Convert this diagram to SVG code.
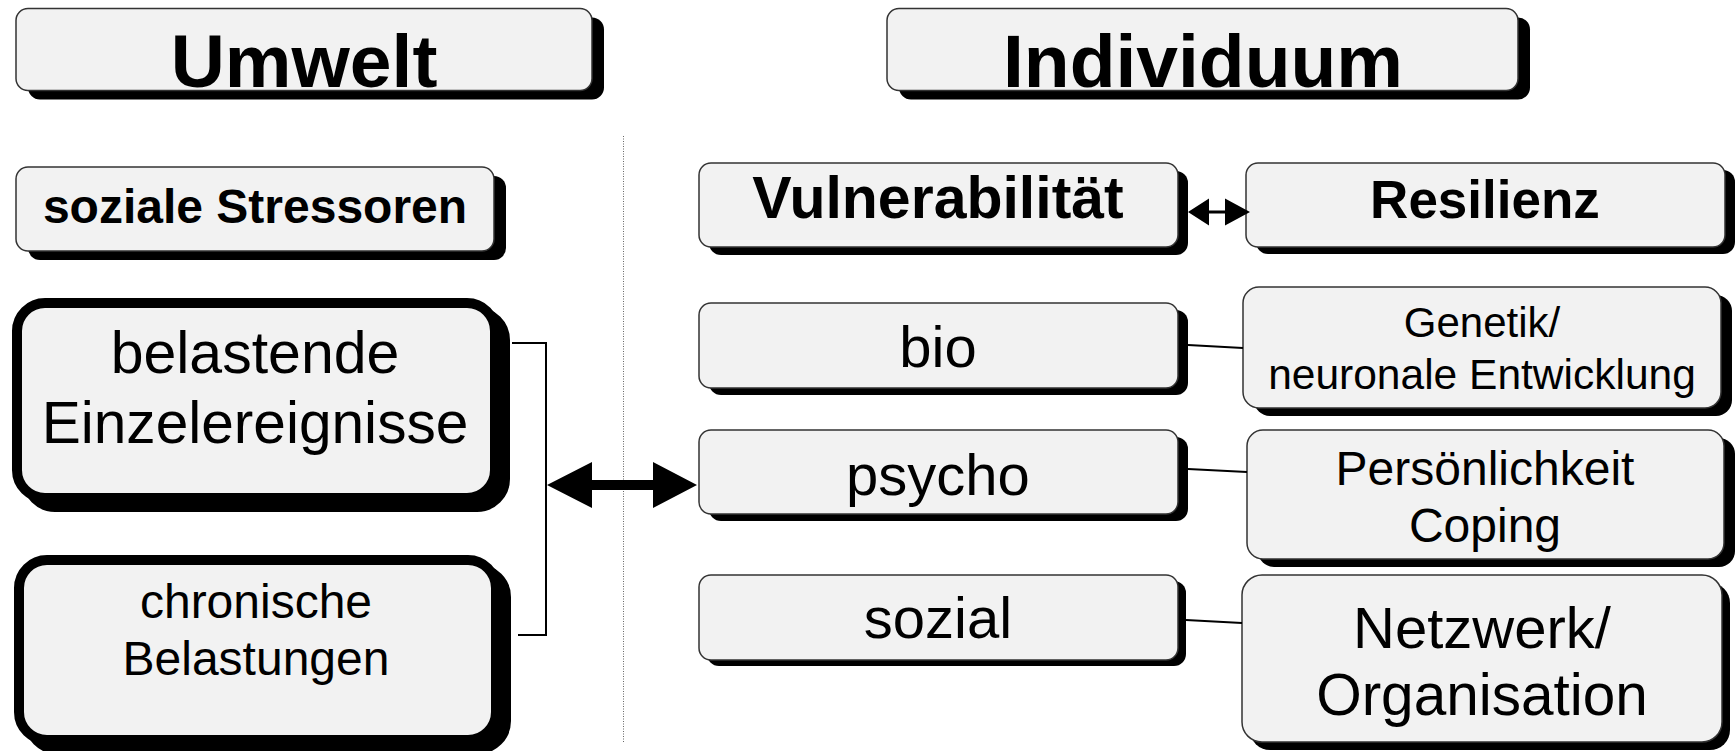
<svg xmlns="http://www.w3.org/2000/svg" width="1736" height="751" viewBox="0 0 1736 751">
  <style>
    .box { fill: #f2f2f2; stroke: #333333; stroke-width: 1.5; }
    .shadow { fill: #000000; }
    .heavy { fill: #f2f2f2; stroke: #000000; stroke-width: 10; }
    .heavy-shadow { fill: #000000; stroke: #000000; stroke-width: 10; }
    text { font-family: "Liberation Sans", Arial, sans-serif; fill: #000000; text-anchor: middle; }
    .b { font-weight: bold; }
    .link { fill: none; stroke: #000000; stroke-width: 2; }
    .divider { stroke: #666666; stroke-width: 1; stroke-dasharray: 1 1.5; }
  </style>

  <!-- column divider -->
  <line class="divider" x1="623.5" y1="136" x2="623.5" y2="742"/>

  <g id="umwelt">
    <rect class="shadow" x="28" y="17.5" width="576" height="82" rx="12"/>
    <rect class="box" x="16" y="8.5" width="576" height="82" rx="12"/>
    <text class="b" x="304" y="87" font-size="75">Umwelt</text>
  </g>

  <g id="individuum">
    <rect class="shadow" x="899" y="17.5" width="631" height="82" rx="12"/>
    <rect class="box" x="887" y="8.5" width="631" height="82" rx="12"/>
    <text class="b" x="1203" y="87" font-size="75">Individuum</text>
  </g>

  <g id="soziale-stressoren">
    <rect class="shadow" x="28" y="176" width="478" height="84" rx="12"/>
    <rect class="box" x="16" y="167" width="478" height="84" rx="12"/>
    <text class="b" x="255" y="223" font-size="48">soziale Stressoren</text>
  </g>

  <g id="einzelereignisse">
    <rect class="heavy-shadow" x="27" y="312" width="478" height="195" rx="28"/>
    <rect class="heavy" x="17" y="303" width="478" height="195" rx="28"/>
    <text x="255" y="373" font-size="59">belastende</text>
    <text x="255" y="443" font-size="58.6">Einzelereignisse</text>
  </g>

  <g id="chronische-belastungen">
    <rect class="heavy-shadow" x="29" y="569" width="477" height="180" rx="28"/>
    <rect class="heavy" x="19" y="560" width="477" height="180" rx="28"/>
    <text x="256" y="618" font-size="48">chronische</text>
    <text x="256" y="675" font-size="48">Belastungen</text>
  </g>

  <g id="vulnerabilitaet">
    <rect class="shadow" x="709" y="171" width="479" height="84" rx="12"/>
    <rect class="box" x="699" y="163" width="479" height="84" rx="12"/>
    <text class="b" x="938" y="218" font-size="59">Vulnerabilität</text>
  </g>

  <g id="resilienz">
    <rect class="shadow" x="1256" y="170" width="479" height="84" rx="12"/>
    <rect class="box" x="1246" y="163" width="479" height="84" rx="12"/>
    <text class="b" x="1485" y="218" font-size="53">Resilienz</text>
  </g>

  <g id="bio">
    <rect class="shadow" x="709" y="310" width="479" height="85" rx="12"/>
    <rect class="box" x="699" y="303" width="479" height="85" rx="12"/>
    <text x="938" y="367" font-size="58">bio</text>
  </g>

  <g id="genetik">
    <rect class="shadow" x="1254" y="295" width="478" height="121" rx="16"/>
    <rect class="box" x="1243" y="287" width="478" height="121" rx="16"/>
    <text x="1482" y="337" font-size="42">Genetik/</text>
    <text x="1482" y="389" font-size="42.5">neuronale Entwicklung</text>
  </g>

  <g id="psycho">
    <rect class="shadow" x="709" y="437" width="479" height="84" rx="12"/>
    <rect class="box" x="699" y="430" width="479" height="84" rx="12"/>
    <text x="938" y="495" font-size="58">psycho</text>
  </g>

  <g id="persoenlichkeit">
    <rect class="shadow" x="1258" y="438" width="477" height="129" rx="16"/>
    <rect class="box" x="1247" y="430" width="477" height="129" rx="16"/>
    <text x="1485" y="485" font-size="48">Persönlichkeit</text>
    <text x="1485" y="542" font-size="48">Coping</text>
  </g>

  <g id="sozial">
    <rect class="shadow" x="707" y="581" width="479" height="85" rx="12"/>
    <rect class="box" x="699" y="575" width="479" height="85" rx="12"/>
    <text x="938" y="638" font-size="58">sozial</text>
  </g>

  <g id="netzwerk">
    <rect class="shadow" x="1250" y="583" width="480" height="167" rx="20"/>
    <rect class="box" x="1242" y="575" width="480" height="167" rx="20"/>
    <text x="1482" y="648" font-size="58">Netzwerk/</text>
    <text x="1482" y="715" font-size="58.5">Organisation</text>
  </g>

  <g id="connectors">
    <!-- bracket joining the two stressor boxes -->
    <path class="link" d="M512,343 H546 V635 H518"/>
    <!-- environment / individual interaction -->
    <polygon points="547,485 592,462 592,480 653,480 653,462 697,485 653,508 653,490 592,490 592,508"/>
    <!-- vulnerability / resilience -->
    <polygon points="1188,212 1209,198.5 1209,210.5 1225,210.5 1225,198.5 1250,212 1225,225.5 1225,213.5 1209,213.5 1209,225.5"/>
    <path class="link" d="M1188,345 L1243,348"/>
    <path class="link" d="M1188,469 L1247,472"/>
    <path class="link" d="M1186,620 L1242,623"/>
  </g>
</svg>
